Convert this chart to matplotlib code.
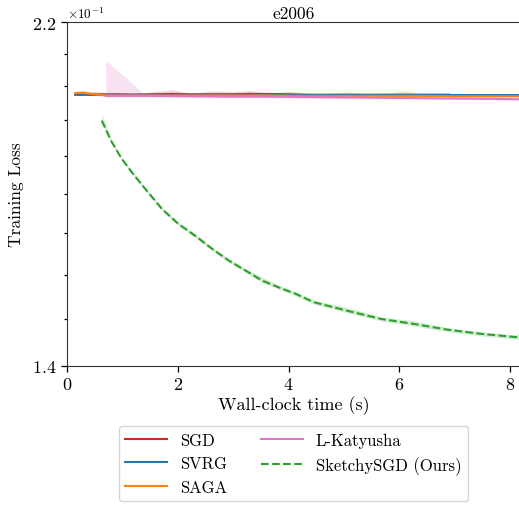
import numpy as np
import matplotlib
matplotlib.use("Agg")
import matplotlib.pyplot as plt
from matplotlib.ticker import ScalarFormatter, NullFormatter, FixedLocator

plt.rcParams['font.family'] = 'serif'
plt.rcParams['font.serif'] = ['cmr10']
plt.rcParams['mathtext.fontset'] = 'cm'
plt.rcParams['axes.formatter.use_mathtext'] = True
plt.rcParams['font.size'] = 13

# datos
sgd_t = [0.15, 0.5, 0.85, 1.2, 1.55, 1.9, 2.25, 2.6, 2.95, 3.3, 3.65, 4.0, 4.35, 4.7, 5.05, 5.4, 5.75, 6.1, 6.45, 6.9]
sgd_y = [0.2000, 0.2000, 0.2001, 0.2000, 0.2001, 0.2002, 0.2001, 0.2001, 0.2001, 0.2002,
         0.2002, 0.2001, 0.2000, 0.2000, 0.2000, 0.2000, 0.2000, 0.2000, 0.2000, 0.2000]
sgd_hi = [0.2003, 0.2008, 0.2005, 0.2003, 0.2008, 0.2013, 0.2003, 0.2010, 0.2008, 0.2011,
          0.2004, 0.2009, 0.2004, 0.2003, 0.2007, 0.2003, 0.2004, 0.2009, 0.2003, 0.2004]
sgd_lo = [0.1998, 0.1998, 0.1999, 0.1998, 0.1999, 0.2000, 0.1999, 0.1999, 0.1999, 0.2000,
          0.2000, 0.1999, 0.1998, 0.1998, 0.1998, 0.1998, 0.1998, 0.1998, 0.1998, 0.1998]

svrg_t = [0.15, 0.7, 1.4, 2.1, 2.8, 3.5, 4.2, 4.9, 5.6, 6.3, 7.0, 7.7, 8.2]
svrg_y = [0.2000, 0.2000, 0.2000, 0.2000, 0.2000, 0.2000, 0.1999, 0.1999, 0.1999, 0.1999, 0.1999, 0.1999, 0.1999]
svrg_hi = [0.2001, 0.2001, 0.2001, 0.2001, 0.2001, 0.2001, 0.2000, 0.2000, 0.2000, 0.2000, 0.2000, 0.2000, 0.2000]
svrg_lo = [0.1999, 0.1999, 0.1999, 0.1999, 0.1999, 0.1999, 0.1998, 0.1998, 0.1998, 0.1998, 0.1998, 0.1998, 0.1998]

saga_t = [0.15, 0.3, 0.5, 0.7, 1.4, 2.1, 2.8, 3.5, 4.2, 4.9, 5.6, 6.3, 7.0, 7.7, 8.2]
saga_y = [0.2004, 0.2005, 0.2001, 0.1998, 0.1998, 0.1998, 0.1998, 0.1998, 0.1997, 0.1997, 0.1997, 0.1997, 0.1996, 0.1996, 0.1996]
saga_hi = [0.2010, 0.2011, 0.2007, 0.2002, 0.2000, 0.2000, 0.2000, 0.2000, 0.1999, 0.1999, 0.1999, 0.1999, 0.1998, 0.1998, 0.1998]
saga_lo = [0.2000, 0.2001, 0.1998, 0.1996, 0.1996, 0.1996, 0.1996, 0.1996, 0.1995, 0.1995, 0.1995, 0.1995, 0.1994, 0.1994, 0.1994]

kat_t = [0.7, 1.4, 2.1, 2.8, 3.5, 4.2, 4.9, 5.6, 6.3, 7.0, 7.7, 8.2]
kat_y = [0.1997, 0.1997, 0.1996, 0.1995, 0.1995, 0.1994, 0.1993, 0.1992, 0.1991, 0.1990, 0.1989, 0.1988]
kat_hi = [0.2093, 0.2001, 0.1999, 0.1998, 0.1997, 0.1996, 0.1995, 0.1994, 0.1993, 0.1992, 0.1991, 0.1990]
kat_lo = [0.1994, 0.1994, 0.1993, 0.1992, 0.1992, 0.1991, 0.1990, 0.1989, 0.1988, 0.1987, 0.1986, 0.1985]

sk_t = [0.628, 0.809, 0.990, 1.171, 1.412, 1.714, 2.014, 2.317, 2.619, 2.919, 3.222, 3.524,
        3.824, 4.127, 4.458, 5.06, 5.665, 6.268, 6.872, 7.475, 8.078, 8.2]
sk_y = [0.1933, 0.1879, 0.1838, 0.1806, 0.1767, 0.1721, 0.1687, 0.1661, 0.1633, 0.1608, 0.1587, 0.1566,
        0.1552, 0.1539, 0.1522, 0.1505, 0.1489, 0.1479, 0.1468, 0.1460, 0.1454, 0.1453]
sk_hi = [0.1950, 0.1884, 0.1842, 0.1810, 0.1771, 0.1725, 0.1691, 0.1665, 0.1637, 0.1612, 0.1591, 0.1573,
         0.1556, 0.1543, 0.1526, 0.1512, 0.1493, 0.1485, 0.1472, 0.1464, 0.1458, 0.1462]
sk_lo = [0.1929, 0.1875, 0.1834, 0.1802, 0.1763, 0.1717, 0.1683, 0.1657, 0.1629, 0.1604, 0.1583, 0.1562,
         0.1548, 0.1535, 0.1518, 0.1501, 0.1485, 0.1475, 0.1464, 0.1456, 0.1450, 0.1450]

fig = plt.figure(figsize=(5.19, 5.06), dpi=100)
ax = fig.add_axes([0.129, 0.2753, 0.873, 0.6787])

series = [
    ('SGD', sgd_t, sgd_y, sgd_lo, sgd_hi, '#d62728', '-'),
    ('SVRG', svrg_t, svrg_y, svrg_lo, svrg_hi, '#1f77b4', '-'),
    ('SAGA', saga_t, saga_y, saga_lo, saga_hi, '#ff7f0e', '-'),
    ('L-Katyusha', kat_t, kat_y, kat_lo, kat_hi, '#e377c2', '-'),
    ('SketchySGD (Ours)', sk_t, sk_y, sk_lo, sk_hi, '#2ca02c', '--'),
]
for name, t, y, lo, hi, c, ls in series:
    ax.plot(t, y, color=c, ls=ls, lw=1.5, label=name)
    ax.fill_between(t, lo, hi, color=c, alpha=0.2, lw=0)

ax.set_yscale('log')
ax.set_ylim(0.14, 0.22)
ax.set_xlim(0, 8.18)
ax.yaxis.set_major_locator(FixedLocator([0.14, 0.22]))
ax.yaxis.set_minor_locator(FixedLocator(np.linspace(0.14, 0.22, 10)[1:-1]))
fmt = ScalarFormatter(useMathText=True)
fmt.set_powerlimits((0, 0))
ax.yaxis.set_major_formatter(fmt)
ax.yaxis.set_minor_formatter(NullFormatter())
ax.yaxis.get_offset_text().set_fontsize(9.5)
ax.set_xticks([0, 2, 4, 6, 8])
ax.tick_params(which='major', length=4, width=0.9)
ax.tick_params(which='minor', length=2.5, width=0.9)

for s in ax.spines.values():
    s.set_color('0.2')

ax.set_title('e2006', fontsize=12.5, pad=3)
ax.set_xlabel('Wall-clock time (s)', labelpad=2)
ax.set_ylabel('Training Loss', fontsize=12.5, labelpad=6)

ax.legend(loc='upper center', bbox_to_anchor=(0.5, -0.15), ncol=2, handlelength=2.5,
          columnspacing=2.0, fontsize=12, frameon=True, fancybox=True)

fig.savefig('out.png', dpi=100)
